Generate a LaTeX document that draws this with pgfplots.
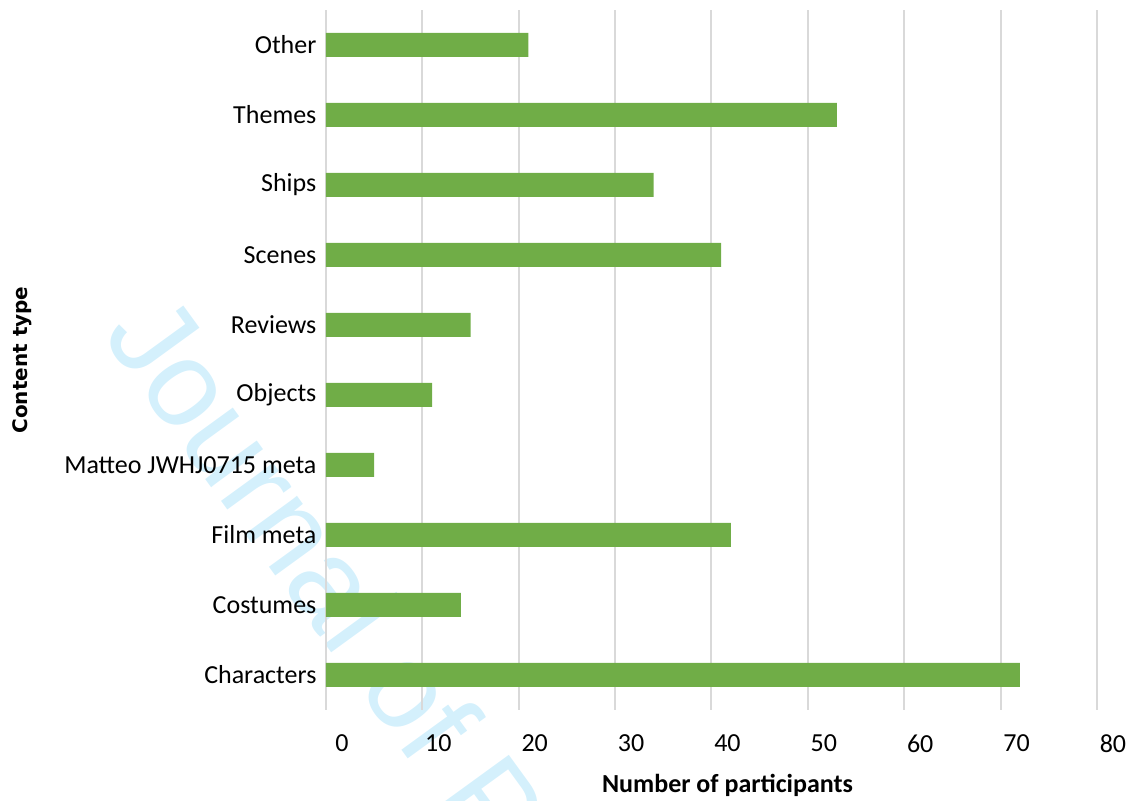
\documentclass[border=0pt]{standalone}
\usepackage{fontspec}
\setmainfont{Carlito}
\newfontfamily\titlefont{DejaVu Sans}
\newfontfamily\wmfont{Liberation Sans}
\usepackage{pgfplots}
\pgfplotsset{compat=1.18}
\definecolor{bargreen}{HTML}{70AD47}
\definecolor{gridgray}{HTML}{D9D9D9}
\definecolor{wmblue}{HTML}{D4F0FC}

\begin{document}
\begin{tikzpicture}
% watermark behind the chart
\node[overlay, anchor=base west, rotate=-54, inner sep=0,
      font=\wmfont\fontsize{61}{61}\selectfont, text=wmblue]
  at (-112.6pt,187.5pt) {Journal of Pre-proof};
\begin{axis}[
  scale only axis, width=385.5pt, height=350pt,
  xbar, bar width=12pt,
  xmin=0, xmax=80, ymin=-0.5, ymax=9.5,
  xtick={0,10,...,80},
  ytick={0,...,9},
  yticklabels={Characters,Costumes,Film meta,Matteo JWHJ0715 meta,Objects,Reviews,Scenes,Ships,Themes,Other},
  xmajorgrids,
  major grid style={gridgray, line width=1pt},
  axis line style={draw=none},
  tick style={draw=none},
  ticklabel style={font=\fontsize{13}{15}\selectfont},
  xticklabel style={xshift=8pt, yshift=-9pt},
  yticklabel style={xshift=3pt},
  /pgf/number format/assume math mode=true,
  xlabel={Number of participants},
  ylabel={Content type},
  xlabel style={at={(axis description cs:0.5208,-0.1071)}, anchor=center,
                font=\bfseries\fontsize{13}{15}\selectfont},
  ylabel style={at={(axis description cs:-0.3943,0.5)}, anchor=center,
                font=\titlefont\bfseries\fontsize{10}{12}\selectfont},
]
\addplot[fill=bargreen, draw=none] coordinates {
  (72,0) (14,1) (42,2) (5,3) (11,4) (15,5) (41,6) (34,7) (53,8) (21,9)
};
\end{axis}
\pgfresetboundingbox
\useasboundingbox (-163pt,-45.5pt) rectangle (403pt,355pt);
\end{tikzpicture}
\end{document}
